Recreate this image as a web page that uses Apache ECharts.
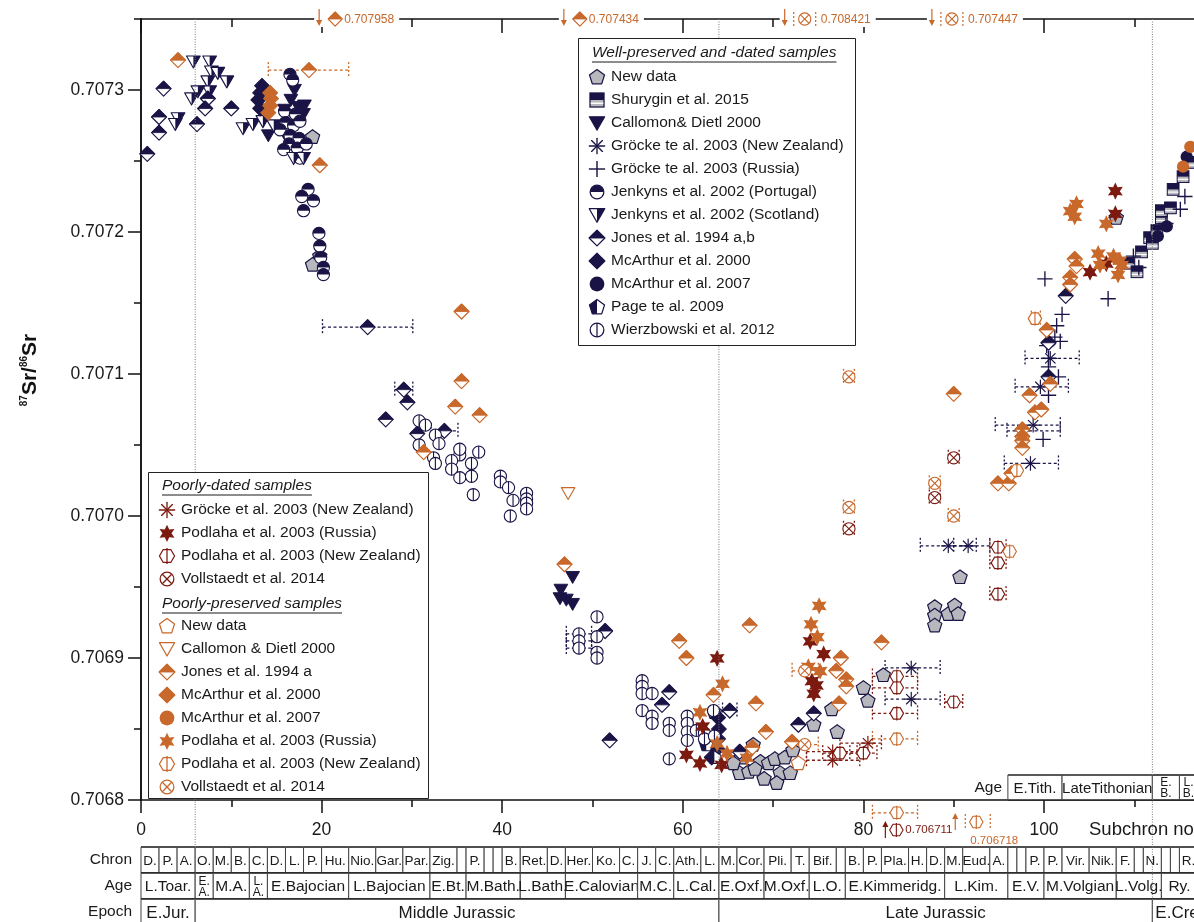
<!DOCTYPE html>
<html>
<head>
<meta charset="utf-8">
<title>87Sr/86Sr through the Jurassic</title>
<script src="https://cdn.jsdelivr.net/npm/echarts@6.0.0/dist/echarts.min.js"></script>
<style>
  html, body { margin: 0; padding: 0; background: #fff; }
  #chart { width: 1194px; height: 922px; }
</style>
</head>
<body>
<div id="chart"></div>
<script>
// ---------- axis ranges and ticks ----------
const X_MAX = 117;
const Y_MIN = 0.7068, Y_MAX = 0.70735;
const xMajorTicks = [0, 20, 40, 60, 80, 100];
const xMinorTicks = [10, 30, 50, 70, 90, 110];
const yMajorTicks = [0.7068, 0.7069, 0.7070, 0.7071, 0.7072, 0.7073];
const yMinorTicks = [0.70685, 0.70695, 0.70705, 0.70715, 0.70725, 0.70735];
const epochBoundaries = [6, 64, 112];

// ---------- well-preserved and -dated samples: [subchron, 87Sr/86Sr, (xLow, xHigh)] ----------
const wpNewData = [[19.0,0.707267],[19.8,0.707183],[19.0,0.707177],[63.5,0.706862],
  [66.3,0.706819],[67.3,0.706820],[68.6,0.706827],[69.5,0.706826],[70.2,0.706829],[71.3,0.706830],
  [72.2,0.706835],[70.8,0.706819],[71.9,0.706819],[70.4,0.706812],[68.0,0.706822],[66.5,0.706830],
  [67.8,0.706839],[65.6,0.706826],[69.0,0.706815],
  [74.5,0.706853],[76.5,0.706864],[77.1,0.706848],[80.0,0.706879],[80.5,0.706870],[82.2,0.706888],
  [87.9,0.706936],[87.9,0.706930],[87.9,0.706923],[89.4,0.706931],[90.1,0.706937],[90.5,0.706931],
  [90.7,0.706957],[108.0,0.707210]];
const wpShurygin = [[109.4,0.707178],[110.3,0.707172],[110.8,0.707186],[111.7,0.707196],[112.5,0.707201],
  [112.0,0.707192],[113.0,0.707210],[113.0,0.707215],[114.0,0.707217],[114.3,0.707230],[115.4,0.707239],
  [116.2,0.707249]];
const wpCallomon = [[16.6,0.707293],[17.4,0.707288],[15.9,0.707286],[18.1,0.707289],[18.0,0.707283],
  [14.1,0.707268],[15.2,0.707272],[16.2,0.707266],[17.0,0.707300],
  [47.8,0.706957],[46.5,0.706948],[46.4,0.706942],[47.1,0.706941],[47.8,0.706938]];
const wpGrockeNZ = [[85.3,0.706893,82.4,88.5],[85.3,0.706871,82.4,88.5],[89.4,0.706979,86.3,92.5],
  [91.6,0.706979,90.0,94.0],[100.7,0.707111,97.9,103.9],[99.6,0.707091,96.8,102.7],
  [98.8,0.707064,94.6,101.8],[97.6,0.707060,95.9,101.8],[98.5,0.707037,95.6,101.6]];
const wpGrockeRu = [[100.1,0.707167],[109.9,0.707183],[110.5,0.707175],[107.1,0.707153],[102.0,0.707142],
  [101.4,0.707134],[101.2,0.707126],[101.8,0.707123],[100.3,0.707120],[100.5,0.707111],[100.5,0.707105],
  [101.6,0.707098],[100.5,0.707085],[99.9,0.707054],[115.6,0.707225],[115.1,0.707216],[113.5,0.707206]];
const wpJenkynsPt = [[16.5,0.707311],[16.8,0.707307],[15.9,0.707285],[17.1,0.707283],[16.0,0.707277],
  [16.9,0.707275],[17.6,0.707278],[15.4,0.707272],[16.5,0.707268],[17.5,0.707266],[16.4,0.707262],
  [17.3,0.707259],[15.8,0.707258],[17.6,0.707252],[18.3,0.707262],[18.5,0.707230],[17.8,0.707225],
  [19.1,0.707222],[18.0,0.707215],[19.7,0.707199],[19.8,0.707190],[19.9,0.707182],[20.2,0.707175],
  [20.2,0.707170]];
const wpJenkynsSc = [[5.8,0.707320],[7.6,0.707320],[7.8,0.707313],[8.5,0.707312],[9.5,0.707306],
  [7.4,0.707306],[7.6,0.707299],[6.3,0.707299],[5.6,0.707294],[4.1,0.707280],[3.8,0.707276],
  [11.3,0.707273],[12.4,0.707276],[13.5,0.707278],[14.7,0.707275],[16.9,0.707252],[18.0,0.707252]];
const wpJones = [[0.7,0.707255],[2.5,0.707301],[2.0,0.707281],[2.0,0.707270],[7.4,0.707294],[7.1,0.707287],
  [10.0,0.707287],[6.2,0.707276],[25.1,0.707133,20.1,30.1],[29.1,0.707089,28.1,30.1],[29.5,0.707080],
  [27.1,0.707068],[30.6,0.707058],[33.6,0.707060,32.1,35.1],[51.4,0.706919],[51.9,0.706842],
  [58.5,0.706876],[57.7,0.706867],[65.2,0.706863,64.4,66.0],[66.3,0.706834],[74.5,0.706861],
  [72.8,0.706853],[102.4,0.707155],[100.5,0.707122],[100.5,0.707098]];
const wpMcArthur2000 = [[13.4,0.707303],[13.2,0.707298],[13.0,0.707293],[13.2,0.707287],[63.9,0.706858],
  [64.0,0.706850],[63.9,0.706843],[63.8,0.706836],[63.2,0.706830]];
const wpMcArthur2007 = [[115.8,0.707253],[113.6,0.707204],[112.6,0.707197]];
const wpPage = [[63.5,0.706830],[62.6,0.706839]];
const wpWierzbowski = [[30.8,0.707067],[31.5,0.707064],[30.8,0.707050],[32.6,0.707057],[33.0,0.707051],
  [32.4,0.707041],[32.6,0.707037],[35.3,0.707043],[35.3,0.707047],[34.4,0.707039],[34.4,0.707033],
  [35.3,0.707027],[36.6,0.707037],[36.6,0.707028],[37.4,0.707045],[36.8,0.707015],[39.8,0.707028],
  [39.8,0.707024],[40.7,0.707020],[41.2,0.707011],[40.9,0.707000],[42.7,0.707016],[42.7,0.707012],
  [42.7,0.707009],[42.7,0.707005],
  [50.5,0.706929],[50.5,0.706915],[50.5,0.706904],[50.5,0.706900],[48.5,0.706917,47.1,49.9],
  [48.5,0.706912,47.1,49.9],[48.5,0.706907,47.1,49.9],
  [55.5,0.706884],[55.5,0.706880],[55.5,0.706875],[56.6,0.706875],[55.5,0.706863],[56.6,0.706859],
  [56.6,0.706854],[58.5,0.706854],[58.5,0.706849],[58.5,0.706829],[60.5,0.706859],[60.5,0.706854],
  [60.5,0.706848],[60.5,0.706842],[61.5,0.706849],[62.4,0.706847],[62.4,0.706843],[63.5,0.706845],
  [63.4,0.706863]];

// ---------- poorly-dated samples ----------
const pdGrockeNZ = [[76.6,0.706834,73.7,79.6],[76.6,0.706828,73.7,79.6],[80.5,0.706840,77.4,82.0]];
const pdPodlahaRu = [[63.8,0.706900],[62.2,0.706852],[60.4,0.706832],[61.9,0.706826],[64.3,0.706825],
  [74.1,0.706912],[75.6,0.706903],[74.3,0.706884],[74.8,0.706881],[74.5,0.706875],[105.1,0.707172],
  [106.9,0.707178],[107.9,0.707229],[107.9,0.707213]];
const pdPodlahaNZ = [[77.4,0.706833,75.5,79.3],[80.0,0.706833,78.5,81.5],[83.7,0.706887,81.0,86.0],
  [83.7,0.706879,81.0,86.0],[83.7,0.706861,81.0,86.0],[90.0,0.706869,89.0,91.0],
  [94.9,0.706978,94.0,95.8],[94.9,0.706967,94.0,95.8],[94.9,0.706945,94.0,95.8]];
const pdVollstaedt = [[90.0,0.707041,89.4,90.6],[87.9,0.707013,87.3,88.5],[78.4,0.706991,77.8,79.0]];
const pdPodlahaNZBelow = [[83.65,0.706711]];

// ---------- poorly-preserved samples ----------
const ppNewData = [[72.8,0.706826]];
const ppCallomon = [[47.3,0.707016]];
const ppJones = [[4.1,0.707321],[18.6,0.707314,14.1,23.0],[19.8,0.707247],[35.5,0.707144],[35.5,0.707095],
  [34.8,0.707077],[37.5,0.707071],[31.3,0.707045],[46.9,0.706966],[59.6,0.706912],[60.4,0.706900],
  [67.4,0.706923],[63.4,0.706874],[68.1,0.706868],[69.2,0.706848],[67.7,0.706837],[82.0,0.706911],
  [77.5,0.706900],[77.0,0.706891],[78.1,0.706885],[78.1,0.706880],[77.3,0.706868],[72.1,0.706841],
  [90.0,0.707086],[102.9,0.707168],[102.9,0.707163],[103.4,0.707181],[103.6,0.707176],[100.3,0.707131],
  [100.7,0.707093],[98.4,0.707085],[99.0,0.707073],[99.7,0.707075],[97.6,0.707061],[97.6,0.707056],
  [97.6,0.707053],[97.6,0.707048],[94.9,0.707023],[96.1,0.707023],[96.4,0.707030]];
const ppJonesAbove = [[21.5,0.707958],[48.6,0.707434]];
const ppMcArthur2000 = [[14.3,0.707298],[14.4,0.707294],[14.3,0.707289],[14.1,0.707284]];
const ppMcArthur2007 = [[116.2,0.707260],[115.4,0.707246]];
const ppPodlahaRu = [[64.4,0.706882],[61.9,0.706862],[63.8,0.706840],[64.9,0.706833],[67.1,0.706830],
  [75.1,0.706937],[74.2,0.706924],[74.9,0.706915],[73.9,0.706894],[75.2,0.706891],[102.9,0.707215],
  [106.0,0.707185],[106.2,0.707177],[107.7,0.707183],[108.4,0.707180],[108.2,0.707170],[108.6,0.707177],
  [103.6,0.707220],[103.4,0.707211],[106.9,0.707206]];
const ppPodlahaNZ = [[83.7,0.706843,81.0,86.0],[99.0,0.707139,98.6,99.6],[97.0,0.707032],[96.2,0.706975],
  [83.7,0.706791,81.0,86.0]];
const ppPodlahaNZBelow = [[92.5,0.706718]];
const ppVollstaedt = [[73.5,0.706891,72.1,75.0],[73.5,0.706839,72.1,75.0],[87.9,0.707023,87.3,88.5],
  [90.0,0.707000,89.4,90.6],[78.4,0.707098,77.8,79.0],[78.4,0.707006,77.8,79.0]];
const ppVollstaedtAbove = [[73.5,0.708421],[89.8,0.707447]];

// ---------- chronostratigraphy (subchron numbers) ----------
const chronBounds = [0,2,4,6,8,10,12,14,16,18,20,23,26,29,32,35,36,38,39,40,42,45,47,50,53,55,57,59,62,64,
  66,69,72,74,77,78,80,82,85,87,89,91,94,96,97,98,100,102,105,108,110,111,113,114,115,117];
const chronNames = ['D.','P.','A.','O.','M.','B.','C.','D.','L.','P.','Hu.','Nio.','Gar.','Par.','Zig.','',
  'P.','','','B.','Ret.','D.','Her.','Ko.','C.','J.','C.','Ath.','L.','M.','Cor.','Pli.','T.','Bif.','',
  'B.','P.','Pla.','H.','D.','M.','Eud.','A.','','','P.','P.','Vir.','Nik.','F.','','N.','','','R.'];
const ageCells = [[0,6,'L.Toar.'],[6,8,'E.\nA.'],[8,12,'M.A.'],[12,14,'L.\nA.'],[14,23,'E.Bajocian'],
  [23,32,'L.Bajocian'],[32,36,'E.Bt.'],[36,42,'M.Bath.'],[42,47,'L.Bath.'],[47,55,'E.Calovian'],
  [55,59,'M.C.'],[59,64,'L.Cal.'],[64,69,'E.Oxf.'],[69,74,'M.Oxf.'],[74,78,'L.O.'],[78,89,'E.Kimmeridg.'],
  [89,96,'L.Kim.'],[96,100,'E.V.'],[100,108,'M.Volgian'],[108,113,'L.Volg.'],[113,117,'Ry.']];
const epochCells = [[0,6,'E.Jur.'],[6,64,'Middle Jurassic'],[64,112,'Late Jurassic'],[112,117,'E.Cret.']];
const tithonianCells = [[96,102,'E.Tith.'],[102,112,'LateTithonian'],[112,115,'E.\nB.'],[115,117,'L.\nB.']];
const rowNames = ['Chron', 'Age', 'Epoch'];

// ---------- styling ----------
const FONT = '"Liberation Sans", Arial, Helvetica, sans-serif';
const NAVY = '#1a1446', DRED = '#7c1a10', ORNG = '#c8682a', GREYF = '#b7b8bd', INK = '#1a1a1a';

const svgHead = '<svg xmlns="http://www.w3.org/2000/svg" width="64" height="64" viewBox="0 0 20 20">';
const toURI = body => 'data:image/svg+xml;charset=utf-8,' + encodeURIComponent(svgHead + body + '</svg>');
const PENT = '10,1.6 18.4,7.7 15.2,17.6 4.8,17.6 1.6,7.7';
const HEX = '1.6,10 5.8,2.8 14.2,2.8 18.4,10 14.2,17.2 5.8,17.2';
const STAR = (() => {
  const pts = [];
  for (let k = 0; k < 12; k++) {
    const a = (k * 30 - 90) * Math.PI / 180, r = k % 2 === 0 ? 9.6 : 5.0;
    pts.push((10 + r * Math.cos(a)).toFixed(2) + ',' + (10.4 + r * Math.sin(a)).toFixed(2));
  }
  return pts.join(' ');
})();
const SW = 1.4;
const SYM = {
  pentagon: (f, c) => toURI(`<polygon points="${PENT}" fill="${f}" stroke="${c}" stroke-width="${SW}" stroke-linejoin="round"/>`),
  squareHalf: c => toURI(`<rect x="2.2" y="2.2" width="15.6" height="15.6" fill="${GREYF}" stroke="${c}" stroke-width="${SW}"/><rect x="2.2" y="2.2" width="15.6" height="7.8" fill="${c}"/><line x1="3" y1="13.6" x2="17" y2="13.6" stroke="#fff" stroke-width="1.6"/>`),
  triDown: c => toURI(`<polygon points="1.4,3 18.6,3 10,18" fill="${c}" stroke="${c}" stroke-width="1.2" stroke-linejoin="round"/>`),
  triHalf: c => toURI(`<polygon points="1.4,3 18.6,3 10,18" fill="#fff" stroke="${c}" stroke-width="${SW}" stroke-linejoin="round"/><polygon points="10,3 18.6,3 10,18" fill="${c}"/>`),
  triOpen: c => toURI(`<polygon points="1.6,3 18.4,3 10,17.8" fill="#fff" stroke="${c}" stroke-width="${SW}" stroke-linejoin="round"/>`),
  asterisk: c => toURI(`<g stroke="${c}" stroke-width="1.5" stroke-linecap="round"><line x1="10" y1="1.5" x2="10" y2="18.5"/><line x1="1.5" y1="10" x2="18.5" y2="10"/><line x1="4" y1="4" x2="16" y2="16"/><line x1="16" y1="4" x2="4" y2="16"/></g>`),
  plus: c => toURI(`<g stroke="${c}" stroke-width="1.6"><line x1="10" y1="1" x2="10" y2="19"/><line x1="1" y1="10" x2="19" y2="10"/></g>`),
  circleHalf: c => toURI(`<circle cx="10" cy="10" r="7.6" fill="#fff" stroke="${c}" stroke-width="${SW}"/><path d="M2.4,10 A7.6,7.6 0 0 1 17.6,10 Z" fill="${c}"/>`),
  diamondHalf: c => toURI(`<polygon points="10,1.2 18.8,10 10,18.8 1.2,10" fill="#fff" stroke="${c}" stroke-width="${SW}" stroke-linejoin="round"/><polygon points="10,1.2 18.8,10 1.2,10" fill="${c}" stroke="${c}" stroke-width="1" stroke-linejoin="round"/>`),
  diamond: c => toURI(`<polygon points="10,1.2 18.8,10 10,18.8 1.2,10" fill="${c}" stroke="${c}" stroke-width="1.2" stroke-linejoin="round"/>`),
  circle: c => toURI(`<circle cx="10" cy="10" r="8.2" fill="${c}"/>`),
  houseHalf: c => toURI(`<polygon points="${PENT}" fill="#fff" stroke="${c}" stroke-width="${SW}" stroke-linejoin="round"/><polygon points="10,1.6 1.6,7.7 4.8,17.6 10,17.6" fill="${c}"/>`),
  circleBar: c => toURI(`<circle cx="10" cy="10" r="7.6" fill="#fff" stroke="${c}" stroke-width="${SW}"/><line x1="10" y1="2.4" x2="10" y2="17.6" stroke="${c}" stroke-width="${SW}"/>`),
  star6: c => toURI(`<polygon points="${STAR}" fill="${c}"/>`),
  hexBar: c => toURI(`<polygon points="${HEX}" fill="#fff" stroke="${c}" stroke-width="${SW}" stroke-linejoin="round"/><line x1="10" y1="1.2" x2="10" y2="18.8" stroke="${c}" stroke-width="${SW}"/>`),
  circleX: c => toURI(`<circle cx="10" cy="10" r="7.6" fill="#fff" stroke="${c}" stroke-width="${SW}"/><g stroke="${c}" stroke-width="${SW}"><line x1="4.8" y1="4.8" x2="15.2" y2="15.2"/><line x1="15.2" y1="4.8" x2="4.8" y2="15.2"/></g>`)
};

// Series catalogue (names in the poorly-preserved group that repeat a name carry a trailing space)
const WELL = [
  { name: 'New data', data: wpNewData, img: SYM.pentagon(GREYF, NAVY), size: 17, color: NAVY },
  { name: 'Shurygin et al. 2015', data: wpShurygin, img: SYM.squareHalf(NAVY), size: 15, color: NAVY },
  { name: 'Callomon& Dietl 2000', data: wpCallomon, img: SYM.triDown(NAVY), size: 16, color: NAVY },
  { name: 'Gröcke te al. 2003 (New Zealand)', data: wpGrockeNZ, img: SYM.asterisk(NAVY), size: 16, color: NAVY },
  { name: 'Gröcke te al. 2003 (Russia)', data: wpGrockeRu, img: SYM.plus(NAVY), size: 17, color: NAVY },
  { name: 'Jenkyns et al. 2002 (Portugal)', data: wpJenkynsPt, img: SYM.circleHalf(NAVY), size: 16, color: NAVY },
  { name: 'Jenkyns et al. 2002 (Scotland)', data: wpJenkynsSc, img: SYM.triHalf(NAVY), size: 16, color: NAVY },
  { name: 'Jones et al. 1994 a,b', data: wpJones, img: SYM.diamondHalf(NAVY), size: 17, color: NAVY },
  { name: 'McArthur et al. 2000', data: wpMcArthur2000, img: SYM.diamond(NAVY), size: 17, color: NAVY },
  { name: 'McArthur et al. 2007', data: wpMcArthur2007, img: SYM.circle(NAVY), size: 15, color: NAVY },
  { name: 'Page te al. 2009', data: wpPage, img: SYM.houseHalf(NAVY), size: 16, color: NAVY },
  { name: 'Wierzbowski et al. 2012', data: wpWierzbowski, img: SYM.circleBar(NAVY), size: 16, color: NAVY }
];
const POOR_DATED = [
  { name: 'Gröcke et al. 2003 (New Zealand)', data: pdGrockeNZ, img: SYM.asterisk(DRED), size: 16, color: DRED },
  { name: 'Podlaha et al. 2003 (Russia)', data: pdPodlahaRu, img: SYM.star6(DRED), size: 18, color: DRED },
  { name: 'Podlaha et al. 2003 (New Zealand)', data: pdPodlahaNZ, img: SYM.hexBar(DRED), size: 16, color: DRED },
  { name: 'Vollstaedt et al. 2014', data: pdVollstaedt, img: SYM.circleX(DRED), size: 16, color: DRED }
];
const POOR_PRESERVED = [
  { name: 'New data ', data: ppNewData, img: SYM.pentagon('#fff', ORNG), size: 17, color: ORNG },
  { name: 'Callomon & Dietl 2000', data: ppCallomon, img: SYM.triOpen(ORNG), size: 16, color: ORNG },
  { name: 'Jones et al. 1994 a', data: ppJones, img: SYM.diamondHalf(ORNG), size: 17, color: ORNG },
  { name: 'McArthur et al. 2000 ', data: ppMcArthur2000, img: SYM.diamond(ORNG), size: 17, color: ORNG },
  { name: 'McArthur et al. 2007 ', data: ppMcArthur2007, img: SYM.circle(ORNG), size: 15, color: ORNG },
  { name: 'Podlaha et al. 2003 (Russia) ', data: ppPodlahaRu, img: SYM.star6(ORNG), size: 18, color: ORNG },
  { name: 'Podlaha et al. 2003 (New Zealand) ', data: ppPodlahaNZ, img: SYM.hexBar(ORNG), size: 16, color: ORNG },
  { name: 'Vollstaedt et al. 2014 ', data: ppVollstaedt, img: SYM.circleX(ORNG), size: 16, color: ORNG }
];
const ALL = WELL.concat(POOR_DATED, POOR_PRESERVED);

// ---------- helpers ----------
const measureCtx = document.createElement('canvas').getContext('2d');
function textWidth(t, font) { measureCtx.font = font; return measureCtx.measureText(t).width; }

function scatterSeries(def) {
  return {
    type: 'scatter', name: def.name, data: def.data.map(d => [d[0], d[1]]),
    symbol: 'image://' + def.img, symbolSize: def.size, clip: false, z: 3, silent: true,
    itemStyle: { opacity: 1 }
  };
}

// dashed horizontal (age) uncertainty with dotted end caps
function errorSeries(def) {
  const rows = def.data.filter(d => d.length >= 4);
  if (!rows.length) return null;
  return {
    type: 'custom', name: def.name + ' range', data: rows, clip: false, z: 2, silent: true,
    encode: { x: 0, y: 1 },
    renderItem: (params, api) => {
      const y = api.value(1);
      const a = api.coord([api.value(2), y]), b = api.coord([api.value(3), y]);
      const st = { stroke: def.color, lineWidth: 1.3, lineDash: [3, 2.5], fill: null };
      const cap = { stroke: def.color, lineWidth: 1.3, lineDash: [2, 2], fill: null };
      return { type: 'group', children: [
        { type: 'line', shape: { x1: a[0], y1: a[1], x2: b[0], y2: b[1] }, style: st },
        { type: 'line', shape: { x1: a[0], y1: a[1] - 8, x2: a[0], y2: a[1] + 8 }, style: cap },
        { type: 'line', shape: { x1: b[0], y1: b[1] - 8, x2: b[0], y2: b[1] + 8 }, style: cap }
      ]};
    }
  };
}

// values beyond the top of the ratio axis: arrow, symbol and the value on the frame
function aboveSeries(def, data, opt) {
  return {
    type: 'custom', data: data, clip: false, z: 6, silent: true, encode: { x: 0 },
    renderItem: (params, api) => {
      const p = api.coord([api.value(0), Y_MAX]);
      const txt = api.value(1).toFixed(6);
      const font = '12px ' + FONT;
      const tw = textWidth(txt, font);
      const ax = p[0] - opt.arrow, tx = p[0] + opt.text;
      const ch = [
        { type: 'rect', shape: { x: ax - 5, y: p[1] - 8, width: tx + tw + 5 - (ax - 5), height: 16 }, style: { fill: '#fff' } },
        { type: 'line', shape: { x1: ax, y1: p[1] - 10, x2: ax, y2: p[1] + 3 }, style: { stroke: def.color, lineWidth: 1.2 } },
        { type: 'polygon', shape: { points: [[ax - 3, p[1] + 1], [ax + 3, p[1] + 1], [ax, p[1] + 7]] }, style: { fill: def.color } },
        { type: 'image', style: { image: def.img, x: p[0] - 8, y: p[1] - 8, width: 16, height: 16 } },
        { type: 'text', style: { text: txt, x: tx, y: p[1] + 1, align: 'left', verticalAlign: 'middle', fill: def.color, font: font } }
      ];
      if (opt.caps) {
        [-opt.caps, opt.caps].forEach(dx => ch.push({ type: 'line',
          shape: { x1: p[0] + dx, y1: p[1] - 7, x2: p[0] + dx, y2: p[1] + 7 },
          style: { stroke: def.color, lineWidth: 1.2, lineDash: [2, 2] } }));
      }
      return { type: 'group', children: ch };
    }
  };
}

// values beyond the bottom of the ratio axis
function belowSeries(def, data, opt) {
  return {
    type: 'custom', data: data, clip: false, z: 6, silent: true, encode: { x: 0 },
    renderItem: (params, api) => {
      const p = api.coord([api.value(0), Y_MIN]);
      const my = p[1] + opt.dy, ax = p[0] - opt.arrow;
      const ch = [
        { type: 'line', shape: { x1: ax, y1: my - 5, x2: ax, y2: my + 8 }, style: { stroke: def.color, lineWidth: 1.2 } },
        { type: 'polygon', shape: { points: [[ax - 3, my - 3], [ax + 3, my - 3], [ax, my - 9]] }, style: { fill: def.color } },
        { type: 'image', style: { image: def.img, x: p[0] - 8, y: my - 8, width: 16, height: 16 } },
        { type: 'text', style: { text: api.value(1).toFixed(6), x: p[0] + opt.tx, y: my + opt.ty, align: 'left',
          verticalAlign: 'middle', fill: def.color, font: '11.5px ' + FONT } }
      ];
      if (opt.caps) {
        opt.caps.forEach(dx => ch.push({ type: 'line',
          shape: { x1: p[0] + dx, y1: my - 8, x2: p[0] + dx, y2: my + 8 },
          style: { stroke: def.color, lineWidth: 1.2, lineDash: [2, 2] } }));
      }
      return { type: 'group', children: ch };
    }
  };
}

// chronostratigraphic table rows: 0 Chron, 1 Age, 2 Epoch, 3 Tithonian strip inside the plot
const tableCells = [];
for (let i = 0; i < chronNames.length; i++) tableCells.push([chronBounds[i], chronBounds[i + 1], 0, chronNames[i]]);
ageCells.forEach(c => tableCells.push([c[0], c[1], 1, c[2]]));
epochCells.forEach(c => tableCells.push([c[0], c[1], 2, c[2]]));
tithonianCells.forEach(c => tableCells.push([c[0], c[1], 3, c[2]]));
const ROW_OFFSET = [47, 73, 99, -25];
const ROW_HEIGHT = [26, 26, 26, 25];
const ROW_FONT = [13.5, 15.5, 17, 15];

function renderCell(params, api) {
  const c = tableCells[params.dataIndex];
  const p0 = api.coord([c[0], Y_MIN]), p1 = api.coord([c[1], Y_MIN]);
  const row = c[2];
  const top = p0[1] + ROW_OFFSET[row], h = ROW_HEIGHT[row];
  const stacked = c[3].indexOf('\n') >= 0;
  const leftAlign = row === 2 && c[0] === 112;
  const edge = { stroke: '#222', lineWidth: 1.6 };
  const side = { stroke: '#444', lineWidth: 1 };
  return { type: 'group', children: [
    { type: 'rect', shape: { x: p0[0], y: top, width: p1[0] - p0[0], height: h }, style: { fill: '#fff' } },
    { type: 'line', shape: { x1: p0[0], y1: top, x2: p1[0], y2: top }, style: edge },
    { type: 'line', shape: { x1: p0[0], y1: top + h, x2: p1[0], y2: top + h }, style: edge },
    { type: 'line', shape: { x1: p0[0], y1: top, x2: p0[0], y2: top + h }, style: side },
    { type: 'line', shape: { x1: p1[0], y1: top, x2: p1[0], y2: top + h }, style: side },
    { type: 'text', style: {
      text: c[3], x: leftAlign ? p0[0] + 3 : (p0[0] + p1[0]) / 2, y: top + h / 2 + 1,
      align: leftAlign ? 'left' : 'center', verticalAlign: 'middle', fill: INK,
      font: (stacked ? 12 : ROW_FONT[row]) + 'px ' + FONT, lineHeight: stacked ? 11 : ROW_FONT[row] + 2 } }
  ]};
}

function renderBoundary(params, api) {
  const top = api.coord([api.value(0), Y_MAX]);
  const bottom = api.coord([api.value(0), Y_MIN]);
  return { type: 'line', shape: { x1: top[0], y1: top[1], x2: bottom[0], y2: bottom[1] + 125 },
    style: { stroke: '#777', lineWidth: 1, lineDash: [1, 1.5] } };
}

// ---------- option ----------
const axisInk = { color: '#111', width: 1.5 };
const chart = echarts.init(document.getElementById('chart'));

const hdrFont = 'italic 15.5px ' + FONT;
const headers = [
  { text: 'Well-preserved and -dated samples', x: 592, y: 53 },
  { text: 'Poorly-dated samples', x: 162, y: 486 },
  { text: 'Poorly-preserved samples', x: 162, y: 604 }
];
const graphic = [
  { type: 'rect', shape: { x: 578.5, y: 38.5, width: 277, height: 307 }, style: { fill: '#fff', stroke: '#222', lineWidth: 1 }, z: 10 },
  { type: 'rect', shape: { x: 148.5, y: 472.5, width: 280, height: 326 }, style: { fill: '#fff', stroke: '#222', lineWidth: 1 }, z: 10 }
];
headers.forEach(h => {
  graphic.push({ type: 'text', x: h.x, y: h.y, z: 11, style: { text: h.text, font: hdrFont, fill: INK, verticalAlign: 'middle' } });
  const w = textWidth(h.text, hdrFont);
  graphic.push({ type: 'line', z: 11, shape: { x1: h.x, y1: h.y + 9, x2: h.x + w, y2: h.y + 9 }, style: { stroke: INK, lineWidth: 1 } });
});
rowNames.forEach((n, i) => graphic.push({ type: 'text', x: 132, y: 860 + i * 26, z: 11,
  style: { text: n, font: '15.5px ' + FONT, fill: INK, align: 'right', verticalAlign: 'middle' } }));
graphic.push({ type: 'text', x: 1002, y: 788, z: 11, style: { text: 'Age', font: '15.5px ' + FONT, fill: INK, align: 'right', verticalAlign: 'middle' } });
graphic.push({ type: 'text', x: 1089, y: 830, z: 11, style: { text: 'Subchron no.', font: '18.5px ' + FONT, fill: INK, verticalAlign: 'middle' } });
graphic.push({ type: 'text', x: 30, y: 370, rotation: Math.PI / 2, z: 11, style: {
  text: '{s|87}{b|Sr/}{s|86}{b|Sr}', align: 'center', verticalAlign: 'middle',
  rich: { b: { font: 'bold 21px ' + FONT, fill: '#111' }, s: { font: 'bold 10px ' + FONT, fill: '#111', verticalAlign: 'top' } } } });

function legendFor(list, left, top) {
  return {
    data: list.map(d => ({ name: d.name, icon: 'image://' + d.img, itemStyle: { opacity: 1 } })),
    left: left, top: top, orient: 'vertical', padding: 0, itemGap: 5, itemWidth: 18, itemHeight: 18,
    selectedMode: false, z: 12,
    textStyle: { fontSize: 15.5, color: INK, fontFamily: FONT, lineHeight: 14 }
  };
}

const series = [
  { type: 'custom', name: 'stratigraphy', data: tableCells.map(c => [c[0], c[1]]), clip: false, z: 4, silent: true,
    encode: { x: [0, 1] }, renderItem: renderCell },
  { type: 'custom', name: 'boundaries', data: epochBoundaries.map(v => [v]), clip: false, z: 5, silent: true,
    encode: { x: 0 }, renderItem: renderBoundary }
];
ALL.forEach(d => { const e = errorSeries(d); if (e) series.push(e); });
ALL.forEach(d => series.push(scatterSeries(d)));
series.push(aboveSeries(POOR_PRESERVED[2], ppJonesAbove, { arrow: 16, text: 9 }));
series.push(aboveSeries(POOR_PRESERVED[7], ppVollstaedtAbove, { arrow: 20, text: 16, caps: 11 }));
series.push(belowSeries(POOR_DATED[2], pdPodlahaNZBelow, { dy: 30, arrow: 11, tx: 9, ty: 0 }));
series.push(belowSeries(POOR_PRESERVED[6], ppPodlahaNZBelow, { dy: 22, arrow: 21, tx: -6, ty: 19, caps: [-11, 14] }));

const xBase = { type: 'value', min: 0, max: X_MAX, splitLine: { show: false } };
const yBase = { type: 'value', min: Y_MIN, max: Y_MAX, splitLine: { show: false } };

chart.setOption({
  animation: false,
  backgroundColor: '#fff',
  textStyle: { fontFamily: FONT },
  grid: { left: 141, top: 19, width: X_MAX * 9.03, height: 781, containLabel: false, outerBoundsMode: 'none' },
  xAxis: [
    Object.assign({}, xBase, { position: 'bottom', axisLine: { lineStyle: axisInk },
      axisTick: { customValues: xMajorTicks, length: 13, lineStyle: axisInk },
      axisLabel: { customValues: xMajorTicks, fontSize: 17.5, color: INK, margin: 21 } }),
    Object.assign({}, xBase, { position: 'bottom', axisLine: { show: false },
      axisTick: { customValues: xMinorTicks, length: 7, lineStyle: axisInk }, axisLabel: { show: false } }),
    Object.assign({}, xBase, { position: 'top', axisLine: { lineStyle: axisInk },
      axisTick: { inside: true, customValues: xMajorTicks, length: 14, lineStyle: axisInk }, axisLabel: { show: false } }),
    Object.assign({}, xBase, { position: 'top', axisLine: { show: false },
      axisTick: { inside: true, customValues: xMinorTicks, length: 8, lineStyle: axisInk }, axisLabel: { show: false } })
  ],
  yAxis: [
    Object.assign({}, yBase, { position: 'left', axisLine: { lineStyle: axisInk },
      axisTick: { customValues: yMajorTicks, length: 13, lineStyle: axisInk },
      axisLabel: { customValues: yMajorTicks, fontSize: 17.5, color: INK, margin: 17, formatter: v => v.toFixed(4) } }),
    Object.assign({}, yBase, { position: 'left', axisLine: { show: false },
      axisTick: { customValues: yMinorTicks, length: 7, lineStyle: axisInk }, axisLabel: { show: false } }),
    Object.assign({}, yBase, { position: 'right', axisLine: { lineStyle: axisInk },
      axisTick: { inside: true, customValues: yMajorTicks, length: 12, lineStyle: axisInk }, axisLabel: { show: false } }),
    Object.assign({}, yBase, { position: 'right', axisLine: { show: false },
      axisTick: { inside: true, customValues: yMinorTicks, length: 7, lineStyle: axisInk }, axisLabel: { show: false } })
  ],
  legend: [legendFor(WELL, 588, 68), legendFor(POOR_DATED, 158, 501), legendFor(POOR_PRESERVED, 158, 617)],
  graphic: graphic,
  series: series
});
</script>
</body>
</html>
